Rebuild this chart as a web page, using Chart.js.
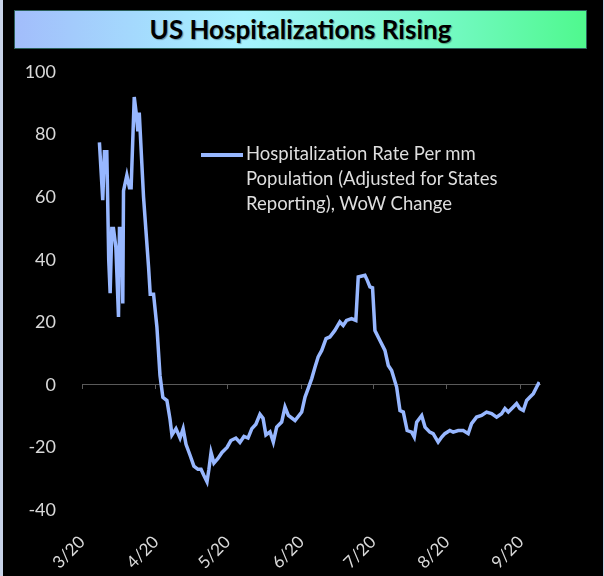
<!DOCTYPE html>
<html>
<head>
<meta charset="utf-8">
<script src="https://cdn.jsdelivr.net/npm/chart.js@4.4.0/dist/chart.umd.min.js"></script>
<style>
  html, body { margin: 0; padding: 0; }
  body { width: 604px; height: 576px; background: #c8d3e8; overflow: hidden; font-family: Lato, "Open Sans", sans-serif; }
  #frame { position: absolute; left: 3px; top: 0; width: 600px; height: 576px; background: #000; }
  #title {
    position: absolute; left: 11px; top: 10px; width: 571px; height: 37px;
    border: 1px solid #2b5f5a;
    background: linear-gradient(to right, #a2bdfb 0%, #a6f3ff 40%, #7cf9cf 70%, #4ff98e 100%);
    text-align: center; line-height: 37px; font-weight: bold; font-size: 26px; color: #000;
    text-shadow: 1px 1px 1px rgba(0,0,0,0.35);
  }
  #chartBox { position: absolute; left: 0; top: 0; width: 600px; height: 576px; }
  #legend { position: absolute; left: 198px; top: 141px; color: #dedede; font-size: 18.5px; line-height: 25px; }
  #legend .swatch { position: absolute; left: 0; top: 12px; width: 42px; height: 4px; background: #97b7ff; }
  #legend .text { margin-left: 45px; white-space: nowrap; }
</style>
</head>
<body>
<div id="frame">
  <div id="chartBox"><canvas id="hospChart"></canvas></div>
  <div id="title">US Hospitalizations Rising</div>
  <div id="legend">
    <span class="swatch"></span>
    <div class="text">Hospitalization Rate Per mm<br>Population (Adjusted for States<br>Reporting), WoW Change</div>
  </div>
</div>
<script>
// day offsets counted from 3/1/2020
const days = [7.3, 8.7, 9.4, 10.4, 11.2, 11.8, 12.5, 13.2, 14.2, 15.3, 15.7, 16.7, 17.1, 17.4, 18.8, 19.9, 20.6,
  21.9, 22.7, 23.4, 24, 25.8, 27.9, 28.6, 30, 31.4, 32.7, 33.9, 35.6, 36.9, 37.7, 39.4, 41.1, 42.4, 43.6, 45.3,
  46.9, 48.6, 49.9, 51.1, 52.4, 53.2, 54.1, 55.3, 57, 58.7, 60.8, 62.4, 64.5, 66.2, 67.9, 69.6, 71.2, 72.9, 74.6,
  75.9, 77.1, 78.8, 80.2, 81.6, 83.7, 85.1, 86.5, 89.3, 92.1, 93.5, 94.8, 96.3, 97.7, 99, 100.5, 102.3, 103.9,
  106, 108.1, 109.5, 110.9, 113, 114.8, 115.8, 118.6, 119.6, 120.7, 121.8, 122.8, 124.9, 127, 128.4, 129.8,
  131.9, 133.3, 134.7, 136.3, 138.2, 139.3, 140.3, 142.4, 143.8, 145.8, 147.2, 149.3, 150.8, 152.1, 154.2,
  155.6, 157.7, 159.8, 161.9, 163.3, 165.4, 167.5, 169.6, 171.7, 173.8, 175.9, 177.3, 178.7, 180.8, 182.2,
  183.6, 185, 186.4, 187.8, 189.2, 190.6, 191.7];
const rates = [77.5, 59, 74.5, 74.5, 40, 29.3, 50, 50, 44, 21.7, 50, 50, 26, 62, 67, 63, 63,
  92, 87, 81, 87, 60, 37.7, 29, 29, 18.5, 3, -4, -5, -11, -16, -14, -17, -14, -19, -22.5,
  -26, -27, -27, -29, -31, -27, -21.6, -25, -23.5, -21.6, -20, -17.8, -17, -18.4, -16.5, -17, -14, -12.6, -9.4,
  -10.7, -16, -15, -18.3, -13.5, -11.9, -7.1, -9.8, -11.4, -8.7, -3.9, -1.2, 2, 5.7, 8.9, 11, 14.8, 15.3,
  17.4, 20.1, 19, 20.6, 21.2, 20.6, 34.5, 35, 33.4, 31.3, 31, 17.4, 14.2, 11, 6.2, 4.6,
  -0.7, -8.2, -8.7, -14.6, -15.1, -16.7, -11.9, -9.8, -13.5, -15.1, -15.6, -18.3, -16.7, -15.6, -14.6,
  -15.1, -14.6, -14.6, -15.6, -12.4, -10.3, -9.8, -8.7, -9.2, -10.3, -9.2, -7.6, -8.7, -7.1, -6,
  -7.6, -8.2, -5, -3.9, -2.8, -0.7, 0.9];

const monthDays = [0, 31, 61, 92, 122, 153, 184];
const monthLabels = ['3/20', '4/20', '5/20', '6/20', '7/20', '8/20', '9/20'];

const lineColor = '#97b7ff';
const textColor = '#d9d9d9';
const zeroColor = '#5a5a5a';

const setMonthTicks = scale => { scale.ticks = monthDays.map(v => ({ value: v })); };

const ctx = document.getElementById('hospChart').getContext('2d');
let hospChart = new Chart(ctx, {
  type: 'line',
  data: {
    datasets: [{
      label: 'Hospitalization Rate Per mm Population (Adjusted for States Reporting), WoW Change',
      data: days.map((d, i) => ({ x: d, y: rates[i] })),
      borderColor: lineColor,
      borderWidth: 3.5,
      pointRadius: 0,
      tension: 0
    }]
  },
  options: {
    responsive: true,
    maintainAspectRatio: false,
    animation: false,
    layout: { padding: { top: 72, right: 63, left: 0, bottom: 0 } },
    plugins: {
      legend: { display: false },
      tooltip: { enabled: false }
    },
    scales: {
      x: {
        type: 'linear', position: 'bottom', min: 0, max: 192,
        afterBuildTicks: setMonthTicks,
        afterFit: s => { s.height = 66; },
        grid: { display: false },
        border: { display: false },
        ticks: {
          color: textColor, font: { family: 'Lato', size: 17 }, padding: 14,
          minRotation: 45, maxRotation: 45, autoSkip: false,
          callback: (v, i) => monthLabels[i]
        }
      },
      zero: {
        type: 'linear', axis: 'x', position: { y: 0 }, min: 0, max: 192,
        afterBuildTicks: setMonthTicks,
        grid: { drawOnChartArea: false, tickLength: 4, color: zeroColor },
        border: { color: zeroColor },
        ticks: { display: false }
      },
      y: {
        min: -40, max: 100,
        afterFit: s => { s.width = 79; },
        grid: { display: false },
        border: { display: false },
        ticks: { stepSize: 20, color: textColor, font: { family: 'Lato', size: 18 }, padding: 18 }
      }
    }
  }
});
</script>
</body>
</html>
